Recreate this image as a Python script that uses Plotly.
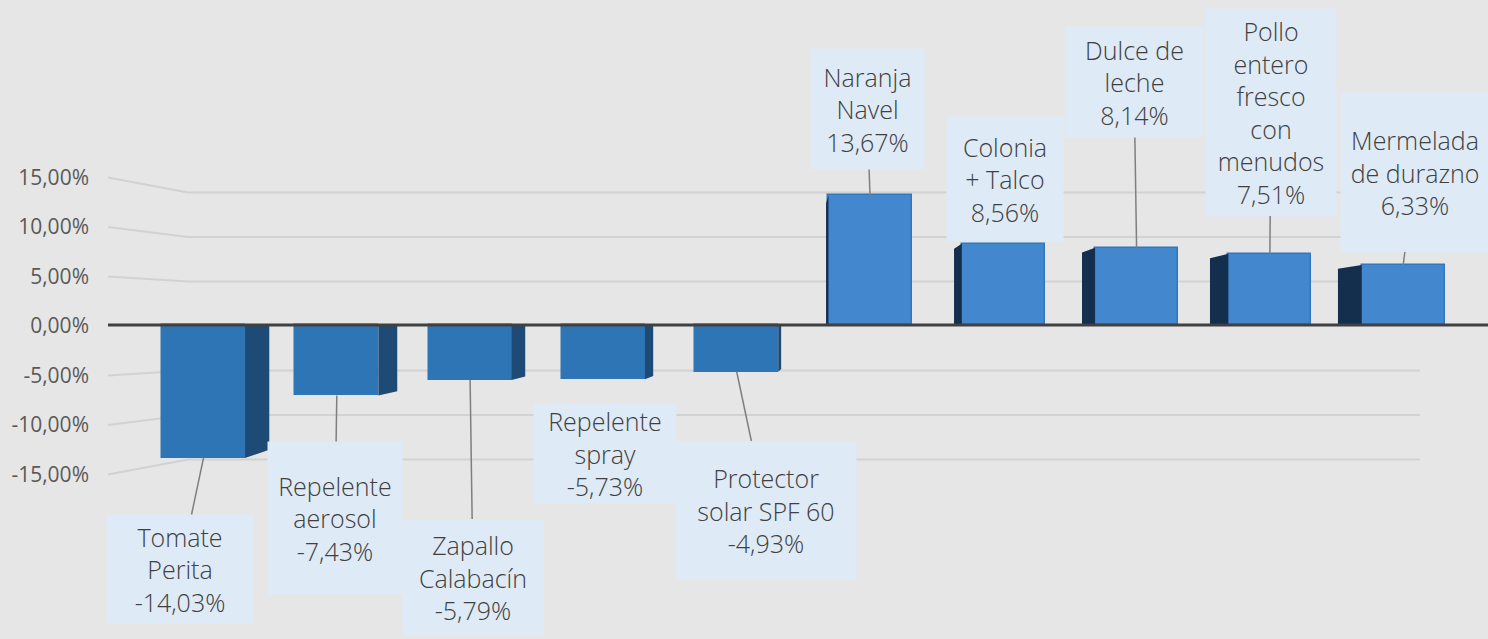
import plotly.graph_objects as go

# ---------------- data ----------------
categories = ["Tomate<br>Perita", "Repelente<br>aerosol", "Zapallo<br>Calabacín",
              "Repelente<br>spray", "Protector<br>solar SPF 60", "Naranja<br>Navel",
              "Colonia<br>+ Talco", "Dulce de<br>leche",
              "Pollo<br>entero<br>fresco<br>con<br>menudos", "Mermelada<br>de durazno"]
values = [-14.03, -7.43, -5.79, -5.73, -4.93, 13.67, 8.56, 8.14, 7.51, 6.33]
value_labels = ["-14,03%", "-7,43%", "-5,79%", "-5,73%", "-4,93%",
                "13,67%", "8,56%", "8,14%", "7,51%", "6,33%"]
tick_values = [-0.15, -0.10, -0.05, 0.0, 0.05, 0.10, 0.15]
tick_labels = ["-15,00%", "-10,00%", "-5,00%", "0,00%", "5,00%", "10,00%", "15,00%"]

# ---------------- layout helpers (pixel geometry of the picture) ----------------
W, H = 1488, 639
BAR_W = 0.623
X0_PX, STEP_PX = 203.5, 133.3        # centre of first bar / bar spacing
ZERO_PX, FRONT_PX = 325, 948         # y pixel of 0 / pixels per unit (front face)
LEFT_PX, LABEL_PX = 990, 326         # tick-label (left wall) scale
BACK_K = 8.9 / 9.48                  # back-wall scale relative to front
VANISH = 4.55                        # vanishing category position
DEPTH = 0.04
PLOT_LEFT = 100

# label box geometry: centre x, centre y, width, height (pixels), leader visible
boxes = [
    (180, 569, 146, 108, True),
    (335, 518, 134, 152, True),
    (473, 577, 140, 115, True),
    (605, 453, 142, 99, False),
    (766, 510, 180, 137, True),
    (867, 109, 113, 120, True),
    (1005, 179, 116, 124, False),
    (1134, 82, 137, 110, True),
    (1271, 112, 130, 207, True),
    (1415, 172, 148, 159, True),
]

def px_to_x(px):
    return (px - X0_PX) / STEP_PX

def px_to_y(py):
    return (ZERO_PX - py) / FRONT_PX

xs = list(range(len(values)))
fracs = [v / 100 for v in values]

fig = go.Figure()

# side faces (perspective depth)
neg_x, neg_y, pos_x, pos_y = [], [], [], []
for i, f in zip(xs, fracs):
    dx = -(i - VANISH) * DEPTH
    if f < 0:
        xf = i + BAR_W / 2
        neg_x += [xf, xf, xf + dx, xf + dx, None]
        neg_y += [0, f, f * BACK_K, 0, None]
    else:
        xf = i - BAR_W / 2
        pos_x += [xf, xf, xf + dx, xf + dx, None]
        pos_y += [0, f, f * BACK_K, 0, None]

fig.add_trace(go.Scatter(x=neg_x, y=neg_y, mode="lines", fill="toself",
                         fillcolor="#1E4B75", line=dict(width=0, color="#1E4B75"),
                         hoverinfo="skip", showlegend=False))
fig.add_trace(go.Scatter(x=pos_x, y=pos_y, mode="lines", fill="toself",
                         fillcolor="#142F4D", line=dict(width=0, color="#142F4D"),
                         hoverinfo="skip", showlegend=False))

# front faces
colors = ["#2E75B6" if f < 0 else "#4388CF" for f in fracs]
lines = ["#2E75B6" if f < 0 else "#2F78BD" for f in fracs]
fig.add_trace(go.Bar(x=xs, y=fracs, width=BAR_W,
                     marker=dict(color=colors, line=dict(color=lines, width=1.5)),
                     hoverinfo="skip", showlegend=False))

# dummy trace so that yaxis2 is shown
fig.add_trace(go.Scatter(x=[None], y=[None], yaxis="y2", showlegend=False, hoverinfo="skip"))

# gridlines with perspective (left wall -> back wall)
shapes = []
for t in tick_values:
    if t == 0:
        continue
    back = t * (8.9 / 9.9)
    shapes.append(dict(type="line", xref="paper", yref="y2", layer="below",
                       x0=108 / W, x1=188 / W, y0=t, y1=back,
                       line=dict(color="#D2D2D2", width=2)))
    shapes.append(dict(type="line", xref="paper", yref="y2", layer="below",
                       x0=188 / W, x1=1420 / W, y0=back, y1=back,
                       line=dict(color="#D2D2D2", width=2)))
shapes.append(dict(type="line", xref="paper", yref="y", layer="above",
                   x0=108 / W, x1=1.0, y0=0, y1=0,
                   line=dict(color="#404040", width=3)))

annotations = []
for i, (f, cat, lab, b) in enumerate(zip(fracs, categories, value_labels, boxes)):
    cx, cy, bw, bh, leader = b
    annotations.append(dict(
        x=i, y=f, xref="x", yref="y",
        ax=px_to_x(cx), ay=px_to_y(cy), axref="x", ayref="y",
        text=cat + "<br>" + lab, showarrow=True, arrowhead=0,
        arrowwidth=1.5, arrowcolor="#7F7F7F" if leader else "rgba(0,0,0,0)",
        width=bw, height=bh, bgcolor="#DEEAF6", borderpad=0,
        align="center", valign="middle",
        font=dict(family="Open Sans", size=25, color="#404040", weight=300),
    ))

fig.update_layout(
    width=W, height=H,
    margin=dict(l=0, r=0, t=0, b=0),
    paper_bgcolor="#E7E6E6", plot_bgcolor="#E7E6E6",
    separators=",.",
    bargap=0,
    xaxis=dict(domain=[PLOT_LEFT / W, 1.0],
               range=[px_to_x(PLOT_LEFT), px_to_x(W)],
               visible=False, fixedrange=True),
    yaxis=dict(range=[px_to_y(H), px_to_y(0)], visible=False,
               showgrid=False, zeroline=False),
    yaxis2=dict(overlaying="y", side="left", anchor="x",
                range=[-(H - LABEL_PX) / LEFT_PX, LABEL_PX / LEFT_PX],
                tickvals=tick_values, ticktext=tick_labels,
                showgrid=False, zeroline=False, showline=False, ticks="",
                ticklabelstandoff=10,
                tickfont=dict(family="Open Sans", size=21, color="#595959")),
    shapes=shapes,
    annotations=annotations,
)

fig.write_html("out.html", config={"displayModeBar": False})

# remove the default page margin so the figure fills the window
with open("out.html", "r", encoding="utf-8") as fh:
    html = fh.read()
html = html.replace("<head>", "<head><style>html,body{margin:0;padding:0;overflow:hidden;background:#E7E6E6;}</style>", 1)
with open("out.html", "w", encoding="utf-8") as fh:
    fh.write(html)
